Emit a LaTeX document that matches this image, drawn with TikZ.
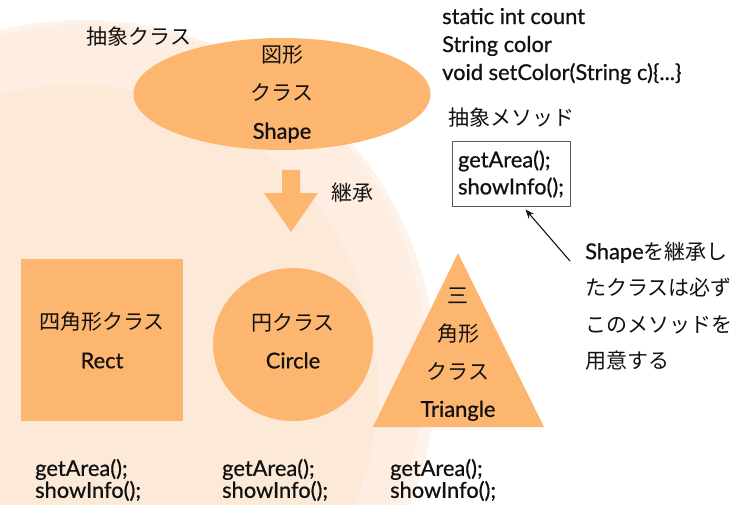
\documentclass[tikz,border=0pt]{standalone}
\usepackage{fontspec}
\setmainfont{Lato}[FakeBold=0.7,Scale=1.04]
\newfontfamily\ja{Noto Sans CJK JP}
\usetikzlibrary{arrows.meta,shapes.geometric}
\definecolor{peach}{HTML}{FDB670}
\definecolor{bgA}{HTML}{FEF3EA}
\definecolor{bgB}{HTML}{FEEEE2}
\definecolor{bgC}{HTML}{FDE9D8}
\definecolor{ink}{HTML}{111111}
\begin{document}
\begin{tikzpicture}[x=1pt,y=-1pt,
  lbl/.style={inner sep=0pt, text=ink, font=\fontsize{21}{25}\selectfont},
  shapefill/.style={fill=peach, draw=none},
  pointer/.style={-{Stealth[length=9pt,width=7pt]}, line width=1.1pt, draw=ink}]
\path[use as bounding box] (0,0) rectangle (746,505);
\begin{scope}
  \clip (0,0) rectangle (746,505);
  \fill[bgA] (84,372) circle[radius=352pt];
  \fill[bgB] (88,362) circle[radius=338pt];
  \fill[bgC] (76,387) circle[radius=302pt];
\end{scope}

% abstract class label
\node[lbl] (abslbl) at (139,37) {\ja 抽象クラス};

% Shape ellipse
\node[ellipse, shapefill, minimum width=297pt, minimum height=112pt, inner sep=0pt] (shape) at (282,94) {};
\node[lbl, align=center, font=\fontsize{21}{38}\selectfont] (shapetxt) at (shape.center) {{\ja 図形}\\{\ja クラス}\\Shape};

% inheritance block arrow
\fill[peach] (282,170) -- (300,170) -- (300,193) -- (318,193) -- (291,232) -- (264,193) -- (282,193) -- cycle;
\node[lbl] (inherit) at (352,193) {\ja 継承};

% fields
\node[lbl, align=left, anchor=west, font=\fontsize{21}{28}\selectfont] (fields) at (442,46)
  {static int count\\String color\\void setColor(String c)\{...\}};

% abstract methods
\node[lbl, anchor=west] (amlbl) at (448,118) {\ja 抽象メソッド};
\node[draw=black!65, line width=1pt, lbl, align=left, font=\fontsize{21}{27}\selectfont,
      minimum width=118pt, minimum height=64pt] (abs) at (511,174) {getArea();\\showInfo();};

% note
\node[lbl, align=left, anchor=west, font=\fontsize{21}{36.5}\selectfont] (note) at (585,306)
  {Shape{\ja を継承し}\\{\ja たクラスは必ず}\\{\ja このメソッドを}\\{\ja 用意する}};
\coordinate (tail) at (570,261);
\draw[pointer] (tail) -- ([xshift=-45pt,yshift=-3pt]abs.south east);

% Rect
\node[rectangle, shapefill, minimum width=162pt, minimum height=162pt, lbl, align=center,
      font=\fontsize{21}{39}\selectfont] (rect) at (102,340) {{\ja 四角形クラス}\\Rect};

% Circle
\node[ellipse, shapefill, minimum width=160pt, minimum height=153pt, inner sep=0pt] (circ) at (293,344.5) {};
\node[lbl, align=center, font=\fontsize{21}{38}\selectfont] (circtxt) at (293,341) {{\ja 円クラス}\\Circle};

% Triangle
\coordinate (tA) at (458,253);
\coordinate (tB) at (544,427);
\coordinate (tC) at (373,427);
\fill[peach] (tA) -- (tB) -- (tC) -- cycle;
\node[lbl, align=center, font=\fontsize{21}{37.7}\selectfont] (tritxt) at (458,354.5)
  {{\ja 三}\\{\ja 角形}\\{\ja クラス}\\Triangle};

% methods of subclasses
\node[lbl, align=left, anchor=west, font=\fontsize{21}{20}\selectfont] (m1) at (35,480) {getArea();\\showInfo();};
\node[lbl, align=left, anchor=west, font=\fontsize{21}{20}\selectfont] (m2) at (222,480) {getArea();\\showInfo();};
\node[lbl, align=left, anchor=west, font=\fontsize{21}{20}\selectfont] (m3) at (390,480) {getArea();\\showInfo();};
\end{tikzpicture}
\end{document}
